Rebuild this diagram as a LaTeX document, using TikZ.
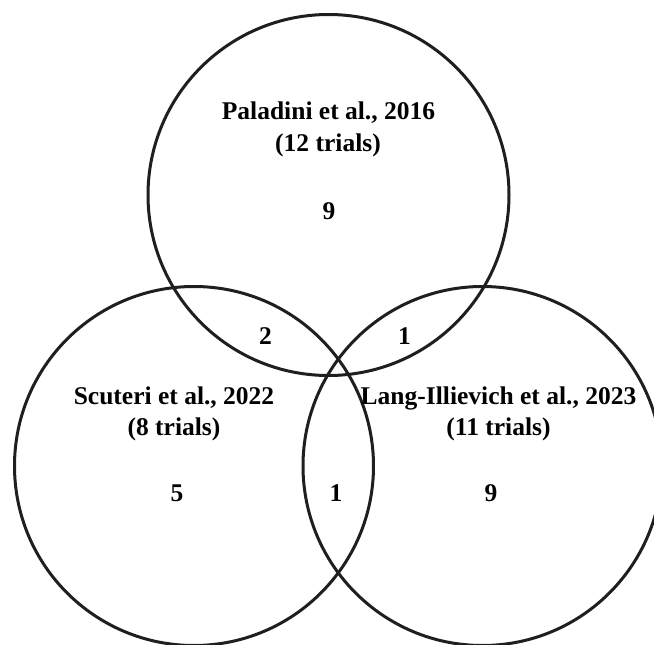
\documentclass[tikz,border=0pt]{standalone}
\usepackage{fontspec}
\setmainfont{Liberation Serif}
\begin{document}
\begin{tikzpicture}[x=1pt,y=-1pt,
  ring/.style={draw=black!88,line width=3pt},
  lab/.style={font=\fontsize{25.5}{30}\selectfont\bfseries,align=center,inner sep=0pt},
  num/.style={font=\fontsize{25.5}{30}\selectfont\bfseries,inner sep=0pt}]
\useasboundingbox (0,0) rectangle (654,645);
\clip (0,0) rectangle (654,645);
\draw[ring] (328.5,195) circle (180.5);
\draw[ring] (194,466) circle (179.5);
\draw[ring] (482.5,466) circle (179.5);
\node[lab] (pal) at (328.5,113) {Paladini et al., 2016};
\node[lab] (palt) at (328,145) {(12 trials)};
\node[num] (n1) at (329,211) {9};
\node[lab] (scu) at (174,398) {Scuteri et al., 2022};
\node[lab] (scut) at (174,429.5) {(8 trials)};
\node[num] (n2) at (177,493) {5};
\node[lab] (lan) at (498.5,398) {Lang-Illievich et al., 2023};
\node[lab] (lant) at (498.5,429.5) {(11 trials)};
\node[num] (n3) at (491,493) {9};
\node[num] (n4) at (265.5,336) {2};
\node[num] (n5) at (404.5,336) {1};
\node[num] (n6) at (336,493) {1};
\end{tikzpicture}
\end{document}
